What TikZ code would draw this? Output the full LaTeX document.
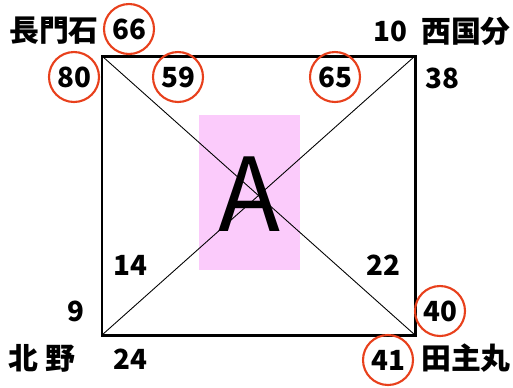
\documentclass[tikz,border=0pt]{standalone}
\usepackage{fontspec}
\newfontfamily\jpfont{Noto Sans CJK JP}
\usepackage{xcolor}
\usepackage{tikz}
\definecolor{ringred}{HTML}{E8401C}
\definecolor{areapink}{HTML}{FBCBFB}

\begin{document}
\begin{tikzpicture}[x=0.02cm, y=-0.02cm,
    num/.style={font=\jpfont\bfseries\fontsize{15.8}{15.8}\selectfont, inner sep=0pt},
    place/.style={font=\jpfont\bfseries\fontsize{17}{17}\selectfont, inner sep=0pt},
    ringed/.style={num, draw=ringred, line width=1.2pt, circle, minimum size=1cm}]
    \useasboundingbox (0,0) rectangle (513,387);

    % zona central
    \fill[areapink] (199,115) rectangle (300,270);
    \node[font=\jpfont\fontsize{58}{58}\selectfont, inner sep=0pt] (letterA) at (249,194) {A};

    % cuadro y diagonales
    \coordinate (nw) at (102,56);
    \coordinate (ne) at (415,56);
    \coordinate (sw) at (102,335);
    \coordinate (se) at (415,335);
    \draw[line width=0.5pt] (nw) -- (se) (sw) -- (ne);
    \draw[line width=1.7pt] (nw) rectangle (se);

    % esquinas
    \node[place] (nagatoishi) at (54,31) {長門石};
    \node[place] (nishikokubu) at (466,31) {西国分};
    \node[place] (kitano) at (42,358) {北\hspace{4pt}野};
    \node[place] (tanushimaru) at (466,358) {田主丸};

    % valores con circulo
    \node[ringed] (v66) at (129,29) {66};
    \node[ringed] (v80) at (74,77) {80};
    \node[ringed] (v59) at (178,77) {59};
    \node[ringed] (v65) at (335,77) {65};
    \node[ringed] (v40) at (440,311) {40};
    \node[ringed] (v41) at (388,360) {41};

    % valores sueltos
    \node[num] (v10) at (390,31) {10};
    \node[num] (v38) at (442,78) {38};
    \node[num] (v14) at (130,265) {14};
    \node[num] (v22) at (383,265) {22};
    \node[num] (v9) at (76,311) {9};
    \node[num] (v24) at (130,359) {24};
\end{tikzpicture}
\end{document}
